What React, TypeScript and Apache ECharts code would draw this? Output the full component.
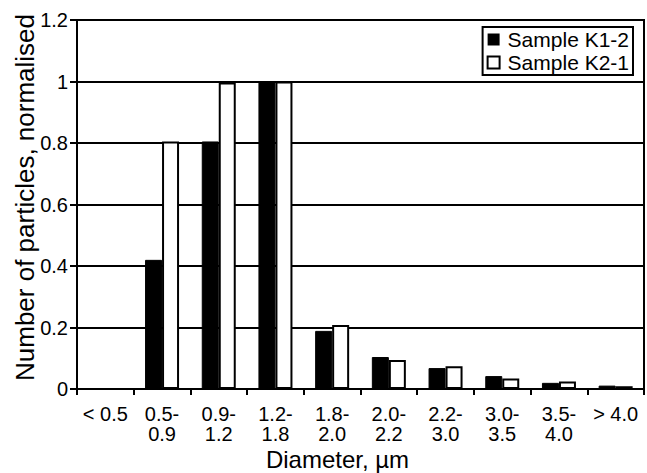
import React, { useEffect, useRef } from "react";
import * as echarts from "echarts";

const categories = ["< 0.5", "0.5-\n0.9", "0.9-\n1.2", "1.2-\n1.8", "1.8-\n2.0", "2.0-\n2.2", "2.2-\n3.0", "3.0-\n3.5", "3.5-\n4.0", "> 4.0"];
const sampleK12 = [0, 0.42, 0.805, 1.0, 0.189, 0.104, 0.068, 0.042, 0.02, 0.011];
const sampleK21 = [0, 0.805, 0.997, 1.0, 0.208, 0.094, 0.074, 0.034, 0.024, 0.009];
const yTicks = { min: 0, max: 1.2, interval: 0.2 };

const FONT = "'Liberation Sans', Arial, Helvetica, sans-serif";

export default function App() {
  const ref = useRef<HTMLDivElement>(null);
  useEffect(() => {
    if (!ref.current) return;
    const chart = echarts.init(ref.current, null, { renderer: "svg" });
    chart.setOption({
      animation: false,
      backgroundColor: "#fff",
      textStyle: { fontFamily: FONT, color: "#000" },
      grid: {
        left: 77,
        right: 3,
        top: 20,
        bottom: 84,
        containLabel: false,
        outerBoundsMode: "none",
        show: true,
        borderColor: "#000",
        borderWidth: 2,
        backgroundColor: "transparent",
      },
      legend: {
        orient: "vertical",
        right: 14,
        top: 27,
        data: [
          { name: "Sample K1-2", itemStyle: { color: "#000", borderColor: "#000", borderWidth: 0 } },
          { name: "Sample K2-1", itemStyle: { color: "#fff", borderColor: "#000", borderWidth: 2 } },
        ],
        icon: "rect",
        itemWidth: 12,
        itemHeight: 12,
        itemGap: 2,
        padding: [2, 4, 2, 4],
        borderColor: "#000",
        borderWidth: 2,
        backgroundColor: "#fff",
        textStyle: { fontFamily: FONT, fontSize: 21, color: "#000", padding: [0, 0, 0, 3] },
      },
      xAxis: {
        type: "category",
        data: categories,
        name: "Diameter, µm",
        nameLocation: "middle",
        nameMoveOverlap: false,
        nameGap: 58,
        nameTextStyle: { fontFamily: FONT, fontSize: 24, lineHeight: 24, color: "#000", padding: [0, 46, 0, 0] },
        axisLine: { lineStyle: { color: "#000", width: 2 } },
        axisTick: { show: true, length: 6, lineStyle: { color: "#000", width: 2 }, interval: 0 },
        axisLabel: { interval: 0, fontFamily: FONT, fontSize: 20, color: "#000", margin: 15, lineHeight: 20 },
        splitLine: { show: false },
      },
      yAxis: {
        type: "value",
        min: yTicks.min,
        max: yTicks.max,
        interval: yTicks.interval,
        name: "Number of particles, normalised",
        nameLocation: "middle",
        nameMoveOverlap: false,
        nameGap: 39,
        nameTextStyle: { fontFamily: FONT, fontSize: 26, color: "#000", padding: [0, 0, 0, 14] },
        axisLine: { show: true, lineStyle: { color: "#000", width: 2 } },
        axisTick: { show: true, length: 7, lineStyle: { color: "#000", width: 2 } },
        axisLabel: { fontFamily: FONT, fontSize: 20, color: "#000", margin: 9 },
        splitLine: { show: true, lineStyle: { color: "#000", width: 2 } },
      },
      series: [
        {
          name: "Sample K1-2",
          type: "bar",
          data: sampleK12,
          barWidth: 17,
          barGap: "0%",
          itemStyle: { color: "#000", borderColor: "#000", borderWidth: 1 },
        },
        {
          name: "Sample K2-1",
          type: "bar",
          data: sampleK21,
          barWidth: 17,
          barGap: "0%",
          itemStyle: { color: "#fff", borderColor: "#000", borderWidth: 2 },
        },
      ],
    });
    return () => chart.dispose();
  }, []);
  return <div ref={ref} style={{ width: 647, height: 473, position: "fixed", left: 0, top: 0 }} />;
}
